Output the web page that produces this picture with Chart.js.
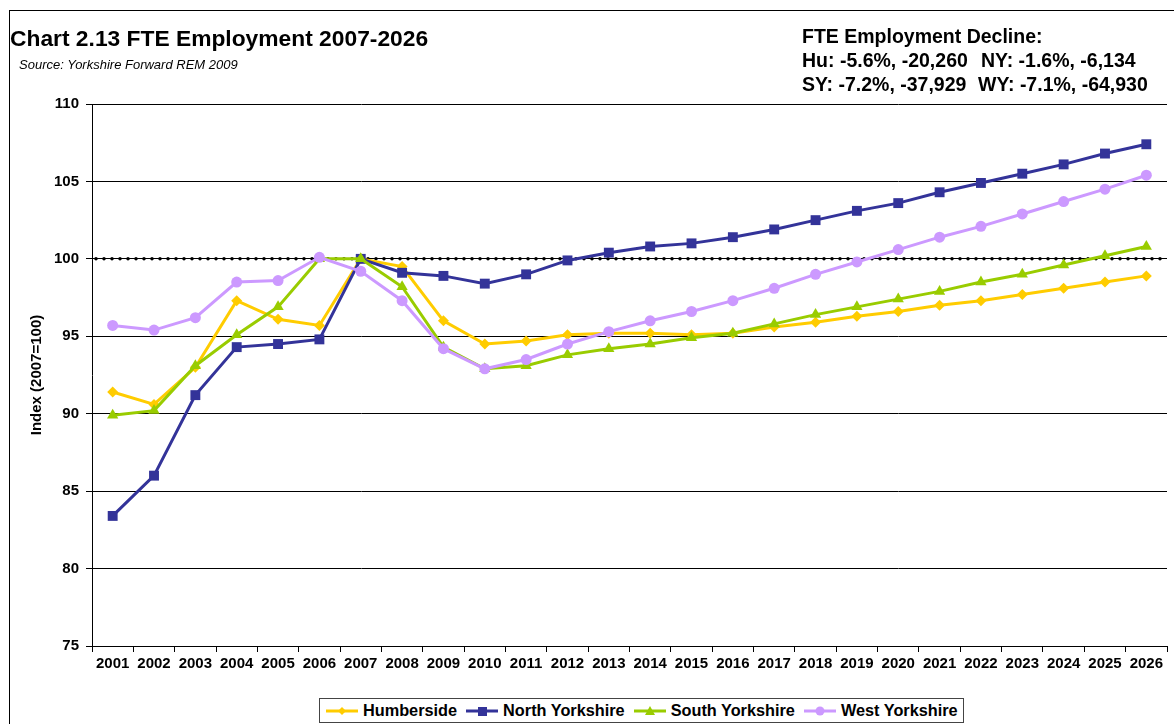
<!DOCTYPE html>
<html>
<head>
<meta charset="utf-8">
<script src="https://cdn.jsdelivr.net/npm/chart.js@4/dist/chart.umd.min.js"></script>
<style>
  body { margin: 0; width: 1174px; height: 724px; overflow: hidden; background: #fff; font-family: "Liberation Sans", Arial, sans-serif; }
  #frame { position: absolute; left: 9px; top: 10px; width: 1300px; height: 900px; border: 1px solid #000; }
  #wrap { position: absolute; left: 0; top: 0; width: 1174px; height: 724px; }
  .t { position: absolute; white-space: nowrap; color: #000; }
  #title { left: 10px; top: 25px; font-size: 22.8px; font-weight: bold; }
  #source { left: 19px; top: 57px; font-size: 13px; font-style: italic; }
  .note { font-size: 19.5px; font-weight: bold; }
  #legend { position: absolute; left: 319px; top: 698px; width: 643px; height: 23px; border: 1px solid #444;
            display: flex; align-items: center; font-size: 16.3px; font-weight: bold; background: #fff; }
  .item { display: flex; align-items: center; margin-left: 6px; }
  .item span { margin-left: 5px; margin-right: 3px; }
</style>
</head>
<body>
<div id="frame"></div>
<div id="wrap"><canvas id="chart" width="1174" height="724"></canvas></div>
<div class="t" id="title">Chart 2.13 FTE Employment 2007-2026</div>
<div class="t" id="source">Source: Yorkshire Forward REM 2009</div>
<div class="t note" style="left:802px; top:25px;">FTE Employment Decline:</div>
<div class="t note" style="left:802px; top:49px;">Hu: -5.6%, -20,260</div>
<div class="t note" style="left:981px; top:49px;">NY: -1.6%, -6,134</div>
<div class="t note" style="left:802px; top:73px;">SY: -7.2%, -37,929</div>
<div class="t note" style="left:978px; top:73px;">WY: -7.1%, -64,930</div>
<div id="legend"></div>
<script>
const years = ["2001", "2002", "2003", "2004", "2005", "2006", "2007", "2008", "2009", "2010", "2011", "2012", "2013",
  "2014", "2015", "2016", "2017", "2018", "2019", "2020", "2021", "2022", "2023", "2024", "2025", "2026"];

const humberside = [91.4, 90.6, 93.0, 97.3, 96.1, 95.7, 100.0, 99.5, 96.0, 94.5, 94.7, 95.1, 95.2,
  95.2, 95.1, 95.2, 95.6, 95.9, 96.3, 96.6, 97.0, 97.3, 97.7, 98.1, 98.5, 98.9];
const northYorkshire = [83.4, 86.0, 91.2, 94.3, 94.5, 94.8, 100.0, 99.1, 98.9, 98.4, 99.0, 99.9, 100.4,
  100.8, 101.0, 101.4, 101.9, 102.5, 103.1, 103.6, 104.3, 104.9, 105.5, 106.1, 106.8, 107.4];
const southYorkshire = [89.9, 90.2, 93.1, 95.1, 96.9, 100.0, 100.0, 98.2, 94.3, 92.9, 93.1, 93.8, 94.2,
  94.5, 94.9, 95.2, 95.8, 96.4, 96.9, 97.4, 97.9, 98.5, 99.0, 99.6, 100.2, 100.8];
const westYorkshire = [95.7, 95.4, 96.2, 98.5, 98.6, 100.1, 99.2, 97.3, 94.2, 92.9, 93.5, 94.5, 95.3,
  96.0, 96.6, 97.3, 98.1, 99.0, 99.8, 100.6, 101.4, 102.1, 102.9, 103.7, 104.5, 105.4];

const series = [
  { label: "Humberside", data: humberside, color: "#FFCC00", point: "rectRot", radius: 5.5, order: 4 },
  { label: "North Yorkshire", data: northYorkshire, color: "#333399", point: "rect", radius: 7, order: 3 },
  { label: "South Yorkshire", data: southYorkshire, color: "#99CC00", point: "triangle", radius: 6.5, order: 2 },
  { label: "West Yorkshire", data: westYorkshire, color: "#CC99FF", point: "circle", radius: 5.5, order: 1 }
];

// dotted line at the 2007 base
const baseLine = {
  id: "baseLine",
  beforeDatasetsDraw(chart) {
    const { ctx, chartArea, scales } = chart;
    const y = scales.y.getPixelForValue(100);
    ctx.save();
    ctx.strokeStyle = "#000";
    ctx.lineWidth = 3.5;
    ctx.lineCap = "round";
    ctx.setLineDash([0, 8]);
    ctx.beginPath();
    ctx.moveTo(chartArea.left + 4, y);
    ctx.lineTo(chartArea.right, y);
    ctx.stroke();
    ctx.restore();
  }
};

const font = { family: "'Liberation Sans', Arial, sans-serif", size: 15, weight: "bold" };

new Chart(document.getElementById("chart"), {
  type: "line",
  data: {
    labels: years,
    datasets: series.map(s => ({
      label: s.label,
      data: s.data,
      borderColor: s.color,
      backgroundColor: s.color,
      borderWidth: 3,
      pointStyle: s.point,
      pointRadius: s.radius,
      pointBorderWidth: 0,
      order: s.order,
      tension: 0
    }))
  },
  options: {
    responsive: false,
    animation: false,
    layout: { padding: { left: 0, right: 0, top: 104, bottom: 38 } },
    plugins: { legend: { display: false }, tooltip: { enabled: false } },
    scales: {
      x: {
        offset: true,
        grid: { offset: true, drawOnChartArea: false, drawTicks: true, tickLength: 6, color: "#000" },
        border: { color: "#000", width: 1 },
        ticks: { font: font, color: "#000", padding: 3, maxRotation: 0, autoSkip: false },
        afterFit: s => { s.height = 40; }
      },
      y: {
        min: 75,
        max: 110,
        grid: { color: "#000", lineWidth: 1, tickLength: 6 },
        border: { color: "#000", width: 1 },
        ticks: { stepSize: 5, font: font, color: "#000", padding: 7 },
        title: { display: true, text: "Index (2007=100)", color: "#000", font: font, padding: { top: 28, bottom: 0 } },
        afterFit: s => { s.width = 92; }
      }
    }
  },
  plugins: [baseLine]
});

// legend: line sample with marker, then the series name
const legend = document.getElementById("legend");
const markerSvg = {
  rectRot: c => `<polygon points="16,2 20,6 16,10 12,6" fill="${c}"/>`,
  rect: c => `<rect x="12" y="2" width="9" height="9" fill="${c}"/>`,
  triangle: c => `<polygon points="16,1 21,10 11,10" fill="${c}"/>`,
  circle: c => `<circle cx="16" cy="6" r="4.5" fill="${c}"/>`
};
series.forEach(s => {
  const d = document.createElement("div");
  d.className = "item";
  d.innerHTML = `<svg width="32" height="12"><line x1="0" y1="6" x2="32" y2="6" stroke="${s.color}" stroke-width="3"/>${markerSvg[s.point](s.color)}</svg><span>${s.label}</span>`;
  legend.appendChild(d);
});
</script>
</body>
</html>
